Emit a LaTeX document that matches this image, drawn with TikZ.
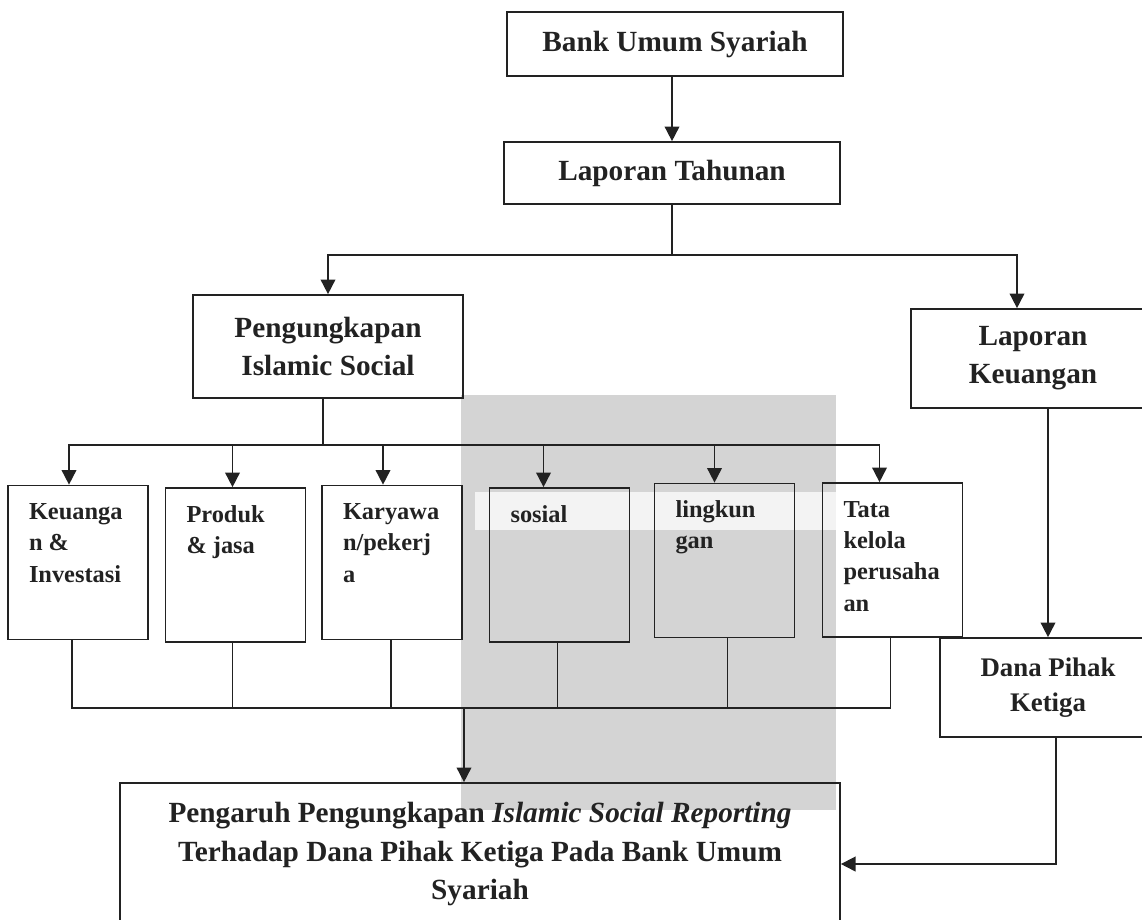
\documentclass[tikz,border=0pt]{standalone}
\usepackage{fontspec}
\setmainfont{Liberation Serif}
\usetikzlibrary{arrows.meta}

\newlength{\pxu}\setlength{\pxu}{0.41pt}
\definecolor{ink}{HTML}{222222}
\definecolor{markgray}{HTML}{D4D4D4}
\definecolor{marklight}{HTML}{F3F3F3}

\tikzstyle{box}=[draw=ink, line width=0.7pt, inner sep=0pt, align=center, text=ink, font=\fontsize{12}{15.6}\selectfont\bfseries]
\tikzstyle{aspect}=[draw=ink, line width=0.7pt, inner sep=0pt, text=ink]
\tikzstyle{link}=[draw=ink, line width=0.7pt]
\tikzstyle{arrow}=[link, -{Triangle[length=6pt,width=6pt]}]

\newcommand{\aspecttext}[1]{\parbox[c][154\pxu][t]{140\pxu}{\fontsize{10}{12.9}\selectfont\bfseries\leftskip=21\pxu\rule{0pt}{34\pxu}#1}}

\begin{document}
\begin{tikzpicture}[x=0.41pt, y=-0.41pt]
        \useasboundingbox (0,0) rectangle (1142,919);
        % watermark block behind the boxes
        \fill[markgray] (461,395) rectangle (836,810);
        \fill[marklight] (475,492) rectangle (836,530);

        \node[box, minimum width=336*\pxu, minimum height=64*\pxu] (bank) at (675,44) {Bank Umum Syariah};
        \node[box, minimum width=336*\pxu, minimum height=62*\pxu] (lt) at (672,173) {Laporan Tahunan};
        \node[box, minimum width=270*\pxu, minimum height=103*\pxu] (isr) at (328,346.5) {Pengungkapan\\Islamic Social};
        \node[box, minimum width=244*\pxu, minimum height=99*\pxu] (lk) at (1033,358.5) {Laporan\\Keuangan};
        \node[box, minimum width=216*\pxu, minimum height=99*\pxu, font=\fontsize{11}{14.4}\selectfont\bfseries] (dana) at (1048,687.5) {Dana Pihak\\Ketiga};
        \node[box, minimum width=720*\pxu, minimum height=142*\pxu] (out) at (480,854) {Pengaruh Pengungkapan {\bfseries\itshape Islamic Social Reporting}\\Terhadap Dana Pihak Ketiga Pada Bank Umum\\Syariah};

        \foreach \pos/\name/\txt in {{(78,562.5)/keu/{Keuanga\\n \&\\Investasi}}, {(235.5,565)/prod/{Produk\\\& jasa}},
            {(392,562.5)/kar/{Karyawa\\n/pekerj\\a}}, {(559.5,565)/sos/{sosial}}, {(724.5,560.5)/ling/{lingkun\\gan}},
            {(892.5,560)/tata/{Tata\\kelola\\perusaha\\an}}}
            \node[aspect] (\name) at \pos {\aspecttext{\txt}};

        \coordinate (j1) at (672,255);
        \coordinate (j2) at (323,445);
        \coordinate (j3) at (464,708);

        \draw[arrow] (lt.north |- bank.south) -- (lt.north);
        \draw[link] (lt.south) -- (j1);
        \draw[arrow] (j1) -| (isr.north);
        \draw[arrow] (j1) -| ([xshift=-16*\pxu]lk.north);
        \draw[link] ([xshift=-5*\pxu]isr.south) -- (j2);
        \foreach \dest/\dx in {keu/-9, prod/-3, kar/-9, sos/-16, ling/-10, tata/-13}
            \draw[arrow] (j2) -| ([xshift=\dx*\pxu]\dest.north);
        \foreach \source/\dx in {keu/-6, prod/-3, kar/-1, sos/-2, ling/3, tata/-2}
            \draw[link] ([xshift=\dx*\pxu]\source.south) |- (j3);
        \draw[arrow] (j3) -- (j3 |- out.north);
        \draw[arrow] ([xshift=15*\pxu]lk.south) -- (dana.north);
        \draw[arrow] ([xshift=8*\pxu]dana.south) |- ([yshift=-10*\pxu]out.east);
    \end{tikzpicture}
\end{document}
